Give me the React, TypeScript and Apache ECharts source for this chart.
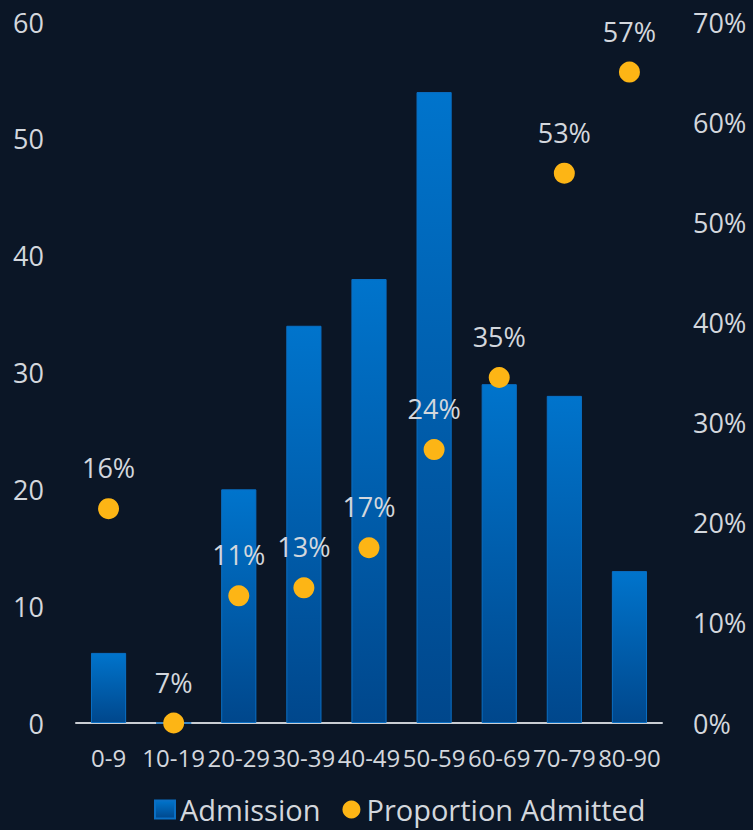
import React, { useEffect, useRef } from "react";
import * as echarts from "echarts";

const categories = ["0-9", "10-19", "20-29", "30-39", "40-49", "50-59", "60-69", "70-79", "80-90"];
const admissions = [6, 0, 20, 34, 38, 54, 29, 28, 13];
const proportionPoints = [21.4, 0, 12.7, 13.5, 17.5, 27.3, 34.5, 54.9, 65.0];
const proportionLabels = ["16%", "7%", "11%", "13%", "17%", "24%", "35%", "53%", "57%"];
const leftTicks = [0, 10, 20, 30, 40, 50, 60];
const rightTicks = [0, 10, 20, 30, 40, 50, 60, 70];

const FONT = "'Open Sans', 'Noto Sans', sans-serif";
const TEXT = "#d3d7dd";

export default function App() {
  const ref = useRef<HTMLDivElement>(null);
  useEffect(() => {
    if (!ref.current) return;
    const chart = echarts.init(ref.current, undefined, { renderer: "svg" });
    const barGradient = new echarts.graphic.LinearGradient(0, 0, 0, 1, [
      { offset: 0, color: "#0074cc" },
      { offset: 1, color: "#00478c" },
    ]);
    chart.setOption({
      animation: false,
      backgroundColor: "#0b1626",
      textStyle: { fontFamily: FONT },
      grid: { left: 76, right: 91, top: 22, bottom: 107 },
      legend: {
        left: 149,
        bottom: 1,
        itemWidth: 20,
        itemHeight: 18,
        itemGap: 22,
        textStyle: { color: TEXT, fontSize: 29, fontFamily: FONT },
        data: [
          { name: "Admission", icon: "rect" },
          { name: "Proportion Admitted", icon: "circle" },
        ],
      },
      xAxis: {
        type: "category",
        data: categories,
        axisLine: { show: true, lineStyle: { color: "#c9cdd3", width: 2 } },
        axisTick: { show: false },
        axisLabel: { color: TEXT, fontSize: 24, margin: 22, interval: 0, fontFamily: FONT },
      },
      yAxis: [
        {
          type: "value",
          min: leftTicks[0],
          max: leftTicks[leftTicks.length - 1],
          interval: 10,
          splitLine: { show: false },
          axisLine: { show: false },
          axisTick: { show: false },
          axisLabel: { color: TEXT, fontSize: 27, margin: 32, fontFamily: FONT },
        },
        {
          type: "value",
          min: rightTicks[0],
          max: rightTicks[rightTicks.length - 1],
          interval: 10,
          position: "right",
          splitLine: { show: false },
          axisLine: { show: false },
          axisTick: { show: false },
          axisLabel: {
            color: TEXT,
            fontSize: 27,
            margin: 31,
            fontFamily: FONT,
            formatter: (v: number) => `${v}%`,
          },
        },
      ],
      series: [
        {
          name: "Admission",
          type: "bar",
          yAxisIndex: 0,
          barWidth: "54%",
          data: admissions,
          itemStyle: { color: barGradient, borderColor: "#0a6fc4", borderWidth: 1 },
        },
        {
          name: "Proportion Admitted",
          type: "scatter",
          yAxisIndex: 1,
          symbol: "circle",
          symbolSize: 21,
          data: proportionPoints,
          itemStyle: { color: "#fdb515", opacity: 1 },
          z: 5,
          label: {
            show: true,
            position: "top",
            distance: 17,
            color: TEXT,
            fontSize: 27,
            fontFamily: FONT,
            formatter: (p: any) => proportionLabels[p.dataIndex],
          },
        },
      ],
    });
    return () => chart.dispose();
  }, []);
  return <div ref={ref} style={{ width: 753, height: 830, position: "absolute", left: 0, top: 0 }} />;
}
